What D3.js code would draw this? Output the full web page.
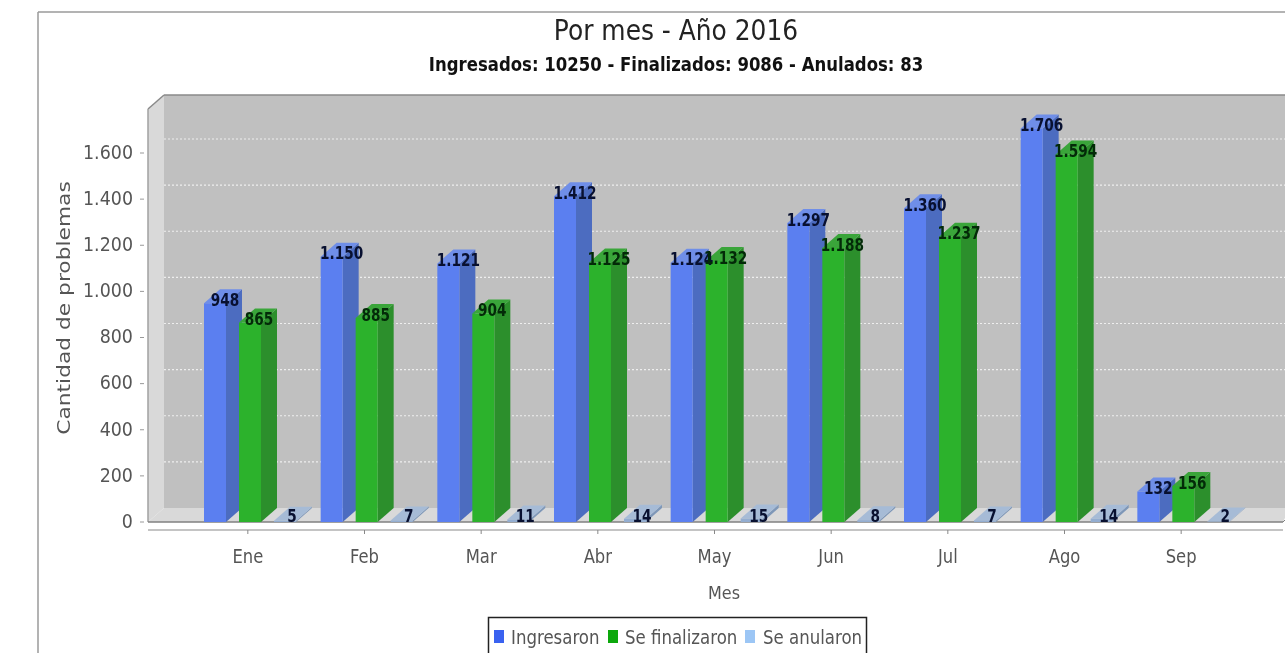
<!DOCTYPE html>
<html><head><meta charset="utf-8">
<script src="https://cdn.jsdelivr.net/npm/d3@7"></script>
<style>html,body{margin:0;background:#fff;overflow:hidden}svg{display:block;filter:blur(.45px)}</style>
</head><body><svg id="c" width="1285" height="653"></svg>
<script>
const months=["Ene","Feb","Mar","Abr","May","Jun","Jul","Ago","Sep"];
const ingresaron=[948,1150,1121,1412,1124,1297,1360,1706,132];
const finalizaron=[865,885,904,1125,1132,1188,1237,1594,156];
const anularon=[5,7,11,14,15,8,7,14,2];
const seriesNames=["Ingresaron","Se finalizaron","Se anularon"];
const yTicks=[0,200,400,600,800,1000,1200,1400,1600];
const titleText="Por mes - Año 2016";
const subtitleText="Ingresados: 10250 - Finalizados: 9086 - Anulados: 83";

const svg=d3.select("#c");
const fmt=d3.formatLocale({decimal:",",thousands:".",grouping:[3],currency:["",""]}).format(",d");
const DX=16,DY=14, FONT="'DejaVu Sans'";
const y=d3.scaleLinear().domain([0,1600]).range([522,153]);
const x=d3.scaleBand().domain(months).range([189.5,1239.5]);
const sub=d3.scaleBand().domain(seriesNames).range([14.5,14.5+105]);
const frontCol=["#5b7ff0","#2cb22c","#93add0"], sideCol=["#4c6cc0","#2c8f2c","#7e97b8"], topCol=["#6f8ee8","#3aa53a","#a6bbd6"];

function txt(s,px,py,size,sx,fill,anchor,weight,rot){
  const g=svg.append("g").attr("transform",`translate(${px},${py})${rot?` rotate(${rot})`:""} scale(${sx},1)`);
  return g.append("text").text(s).attr("text-anchor",anchor||"middle").attr("dominant-baseline","central")
    .attr("font-family",FONT).attr("font-size",size).attr("fill",fill).attr("font-weight",weight||"normal");
}
const poly=(pts,f,st)=>svg.append("polygon").attr("points",pts.map(p=>p.join(",")).join(" ")).attr("fill",f).attr("stroke",st||"none");
const seg=(a,b,c,d,col,w,dash)=>svg.append("line").attr("x1",a).attr("y1",b).attr("x2",c).attr("y2",d).attr("stroke",col).attr("stroke-width",w||1).attr("stroke-dasharray",dash||null);

// frame
seg(38,12,1285,12,"#9a9a9a",1.5);
seg(38,12,38,653,"#9a9a9a",1.5);

// panel
const L=148,R=1283;
poly([[L+DX,y(0)-DY],[1285,y(0)-DY],[1285,y(1600)-DY-44],[L+DX,y(1600)-DY-44]],"#c0c0c0");
poly([[L,y(0)],[L+DX,y(0)-DY],[L+DX,y(1600)-DY-44],[L,y(1600)-44]],"#d9d9d9");
poly([[L,y(0)],[L+DX,y(0)-DY],[1290,y(0)-DY],[R,y(0)]],"#d9d9d9");
seg(L,y(1600)-44,L+DX,y(1600)-DY-44,"#8a8a8a",1.5);
seg(L+DX,y(1600)-DY-44,1285,y(1600)-DY-44,"#8a8a8a",1.5);
seg(L,y(1600)-44,L,y(0),"#a0a0a0",1.5);
seg(L,y(0),R,y(0),"#808080",1.5);
seg(R,y(0),1285,y(0)-2,"#808080",1);

// grid
yTicks.filter(d=>d>0).forEach(d=>seg(L+DX,y(d)-DY,1285,y(d)-DY,"#eeeeee",1.2,"2 2"));

// y axis
yTicks.forEach(d=>{
  seg(140,y(d),144,y(d),"#999",1);
  txt(fmt(d),133,y(d)-1,19,.92,"#555","end");
});
txt("Cantidad de problemas",64,308,17,1.28,"#555","middle","normal",-90);

// x axis
seg(L,530,R,530,"#b0b0b0",1.5);
months.forEach(m=>{
  seg(x(m)+x.bandwidth()/2,530,x(m)+x.bandwidth()/2,534,"#888",1);
  txt(m,x(m)+x.bandwidth()/2,556,20,.82,"#555");
});
txt("Mes",724,593,18,.89,"#555");

// bars
const all=[ingresaron,finalizaron,anularon];
const labels=[];
months.forEach((m,i)=>{
  all.forEach((vals,s)=>{
    const v=vals[i], x0=x(m)+sub(seriesNames[s]), w=22, yt=y(v), yb=y(0);
    poly([[x0+w,yb],[x0+w+DX,yb-DY],[x0+w+DX,yt-DY],[x0+w,yt]],sideCol[s]);
    poly([[x0,yt],[x0+DX,yt-DY],[x0+w+DX,yt-DY],[x0+w,yt]],topCol[s]);
    poly([[x0,yb],[x0+w,yb],[x0+w,yt],[x0,yt]],frontCol[s]);
    labels.push({v,x:x0+[21,20,18][s],y:s==2?yb-6:yt-3.5,s});
  });
});
labels.forEach(l=>txt(fmt(l.v),l.x,l.y,18,.76,l.s==1?"#032a08":"#081030","middle","bold"));

// titles
txt(titleText,676,30,28,.89,"#222");
txt(subtitleText,676,64,19,.87,"#111","middle","bold");

// legend
svg.append("rect").attr("x",488.5).attr("y",617.5).attr("width",378).attr("height",50).attr("fill","#fff").attr("stroke","#222").attr("stroke-width",1.5);
const legendCol=["#3a62f0","#0ca80c","#9cc6f5"];
const legendX=[494,608,745], legendT=[511,625,763];
seriesNames.forEach((n,i)=>{
  svg.append("rect").attr("x",legendX[i]).attr("y",630).attr("width",10).attr("height",13).attr("fill",legendCol[i]);
  txt(n,legendT[i],637,20,.83,"#555","start");
});
</script></body></html>
